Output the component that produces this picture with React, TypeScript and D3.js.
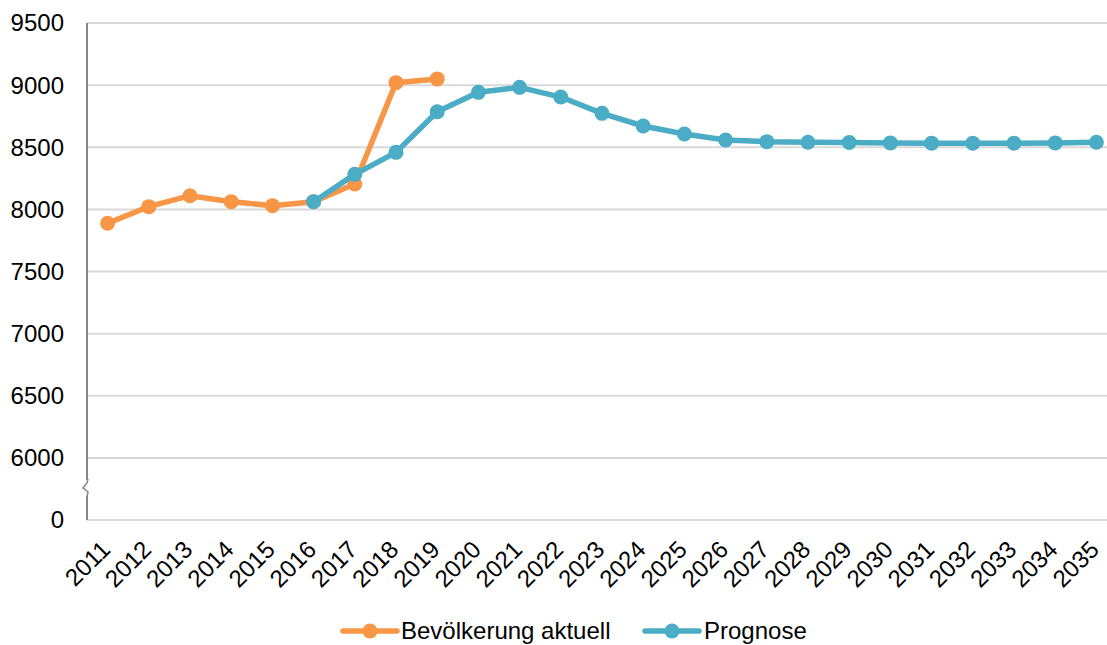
import React from "react";
import * as d3 from "d3";

const years = [
  "2011","2012","2013","2014","2015","2016","2017","2018","2019","2020","2021","2022",
  "2023","2024","2025","2026","2027","2028","2029","2030","2031","2032","2033","2034","2035",
];
const actualYears = ["2011","2012","2013","2014","2015","2016","2017","2018","2019"];
const actualValues = [7888, 8022, 8110, 8062, 8030, 8062, 8204, 9020, 9050];
const forecastYears = [
  "2016","2017","2018","2019","2020","2021","2022","2023","2024","2025","2026","2027",
  "2028","2029","2030","2031","2032","2033","2034","2035",
];
const forecastValues = [
  8062, 8282, 8459, 8786, 8942, 8982, 8904, 8773, 8671, 8607, 8558, 8545,
  8540, 8538, 8535, 8533, 8533, 8533, 8535, 8540,
];
// 5500 position is shown as "0" (broken axis)
const yTickValues = [5500, 6000, 6500, 7000, 7500, 8000, 8500, 9000, 9500];
const yTickLabels = ["0", "6000", "6500", "7000", "7500", "8000", "8500", "9000", "9500"];
const seriesNames = ["Bevölkerung aktuell", "Prognose"];
const colors = ["#F79646", "#4BACC6"];

const W = 1107;
const H = 645;
const left = 87;
const top = 23;
const bottom = 520;
const step = 41.2;
const font = "'Liberation Sans', Arial, sans-serif";
const fs = 24;

export default function App() {
  const x = d3
    .scaleBand<string>()
    .domain(years)
    .range([left, left + step * years.length]);
  const cx = (c: string) => (x(c) as number) + x.bandwidth() / 2;
  const y = d3.scaleLinear().domain([5500, 9500]).range([bottom, top]);

  const line = d3
    .line<[string, number]>()
    .x((d) => cx(d[0]))
    .y((d) => y(d[1]));

  const actual: [string, number][] = actualYears.map((c, i) => [c, actualValues[i]]);
  const forecast: [string, number][] = forecastYears.map((c, i) => [c, forecastValues[i]]);
  const series = [actual, forecast];

  const legendItems = [
    { lx: 343, tx: 401 },
    { lx: 645, tx: 704 },
  ];
  const ly = 631;
  const by = y(5750) - 1;

  return (
    <svg
      width={W}
      height={H}
      style={{ position: "absolute", left: 0, top: 0, background: "#fff" }}
      fontFamily={font}
    >
      <rect x={0} y={0} width={W} height={H} fill="#fff" />
      {/* gridlines */}
      {yTickValues.map((v) => (
        <line
          key={"g" + v}
          x1={left}
          x2={W}
          y1={y(v)}
          y2={y(v)}
          stroke="#D9D9D9"
          strokeWidth={2}
        />
      ))}
      {/* y axis */}
      <line x1={left} x2={left} y1={top} y2={bottom} stroke="#868686" strokeWidth={2} />
      {/* axis break */}
      <rect x={left - 6} y={by - 8} width={12} height={16} fill="#fff" />
      <path
        d={`M${left + 1},${by - 9} L${left},${by - 5} L${left - 4},${by} L${left + 1},${by + 4} L${left},${by + 9}`}
        fill="none"
        stroke="#868686"
        strokeWidth={1.5}
      />
      {/* y tick labels */}
      {yTickValues.map((v, i) => (
        <text
          key={"t" + v}
          x={left - 23}
          y={y(v)}
          dy="0.35em"
          textAnchor="end"
          fontSize={fs}
          fill="#000"
        >
          {yTickLabels[i]}
        </text>
      ))}
      {/* x tick labels */}
      {years.map((c) => (
        <text
          key={"x" + c}
          transform={`translate(${cx(c) + 4},${bottom + 31}) rotate(-45)`}
          textAnchor="end"
          fontSize={fs}
          fill="#000"
        >
          {c}
        </text>
      ))}
      {/* series */}
      {series.map((s, i) => (
        <g key={"s" + i}>
          <path
            d={line(s) as string}
            fill="none"
            stroke={colors[i]}
            strokeWidth={5.5}
            strokeLinejoin="round"
            strokeLinecap="round"
          />
          {s.map((d) => (
            <circle key={d[0]} cx={cx(d[0])} cy={y(d[1])} r={7.5} fill={colors[i]} />
          ))}
        </g>
      ))}
      {/* legend */}
      {legendItems.map((it, i) => (
        <g key={"l" + i}>
          <line
            x1={it.lx}
            x2={it.lx + 54}
            y1={ly}
            y2={ly}
            stroke={colors[i]}
            strokeWidth={5.5}
            strokeLinecap="round"
          />
          <circle cx={it.lx + 27} cy={ly} r={7.5} fill={colors[i]} />
          <text x={it.tx} y={ly} dy="0.35em" fontSize={fs} fill="#000">
            {seriesNames[i]}
          </text>
        </g>
      ))}
    </svg>
  );
}
